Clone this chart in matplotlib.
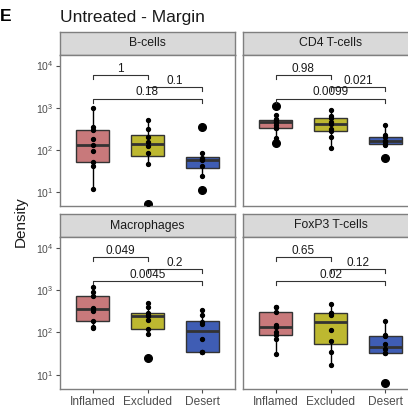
"""Box plots of cell density by immune phenotype (untreated, margin)"""

import numpy as np
import matplotlib

matplotlib.use("Agg")
from matplotlib import pyplot as plt

plt.rcParams["font.family"] = ["Liberation Sans", "DejaVu Sans"]
plt.rcParams["mathtext.fontset"] = "custom"
plt.rcParams["mathtext.rm"] = "Liberation Sans"
plt.rcParams["mathtext.default"] = "regular"

groups = ["Inflamed", "Excluded", "Desert"]
group_colors = ["#C8797B", "#BDB830", "#3F5DB4"]
cell_types = ["B-cells", "CD4 T-cells", "Macrophages", "FoxP3 T-cells"]

# density values, one list per group
bcells_inflamed = [12, 42, 51, 95, 132, 178, 302, 347, 977]
bcells_excluded = [5.1, 47, 83, 126, 151, 200, 316, 513]
bcells_desert = [11.2, 24, 42, 56, 60, 63, 83, 347]

cd4_inflamed = [148, 195, 324, 324, 398, 468, 468, 501, 537, 676, 1122]
cd4_excluded = [110, 200, 275, 316, 417, 457, 562, 631, 891]
cd4_desert = [63, 132, 138, 158, 166, 200, 229, 380]

macro_inflamed = [126, 138, 182, 316, 363, 380, 708, 891, 1202]
macro_excluded = [25, 91, 123, 200, 240, 263, 282, 398, 501]
macro_desert = [34.7, 34.7, 35.5, 72, 158, 174, 251, 331]

foxp3_inflamed = [31, 71, 85, 100, 135, 151, 309, 407, 407]
foxp3_excluded = [17.4, 35.5, 63, 115, 263, 282, 295, 468]
foxp3_desert = [6.3, 33, 33, 40, 52.5, 83, 85, 182]

# p-values: Inflamed-Excluded, Excluded-Desert, Inflamed-Desert
pvals_bcells = ["1", "0.1", "0.18"]
pvals_cd4 = ["0.98", "0.021", "0.0099"]
pvals_macro = ["0.049", "0.2", "0.0045"]
pvals_foxp3 = ["0.65", "0.12", "0.02"]

panel_data = [
    [bcells_inflamed, bcells_excluded, bcells_desert],
    [cd4_inflamed, cd4_excluded, cd4_desert],
    [macro_inflamed, macro_excluded, macro_desert],
    [foxp3_inflamed, foxp3_excluded, foxp3_desert],
]
panel_pvals = [pvals_bcells, pvals_cd4, pvals_macro, pvals_foxp3]
comparisons = [(1, 2), (2, 3), (1, 3)]
bracket_levels = [3.77, 3.49, 3.21]

W, H = 408, 412
YLIM = (0.667, 4.25)
BORDER = "#7F7F7F"
DARK = "#333333"


def px_axes(fig, x0, y0, x1, y1):
    """Add axes from pixel box (top-left origin)"""
    return fig.add_axes([x0 / W, 1 - y1 / H, (x1 - x0) / W, (y1 - y0) / H])


def draw_panel(ax, data, pvals, show_x, show_y):
    logs = [np.log10(d) for d in data]
    pos = [1, 2, 3]
    bp = ax.boxplot(
        logs,
        positions=pos,
        widths=0.6,
        patch_artist=True,
        showcaps=False,
        whis=1.5,
        medianprops=dict(color=DARK, lw=2),
        boxprops=dict(edgecolor=DARK, lw=1),
        whiskerprops=dict(color="black", lw=1),
        flierprops=dict(marker="o", markersize=5.5, markerfacecolor="black",
                        markeredgecolor="black"),
        zorder=2,
    )
    for patch, col in zip(bp["boxes"], group_colors):
        patch.set_facecolor(col)
    for p, vals in zip(pos, logs):
        ax.plot([p] * len(vals), vals, "o", color="black", markersize=2.8,
                zorder=4)

    tick = 0.09
    for (a, b), level, label in zip(comparisons, bracket_levels, pvals):
        ax.plot([a, a, b, b], [level - tick, level, level, level - tick],
                color=DARK, lw=0.8, zorder=3)
        ax.text((a + b) / 2, level + 0.01, label, ha="center", va="bottom",
                fontsize=8.5, color="#1A1A1A")

    ax.set_xlim(0.4, 3.6)
    ax.set_ylim(*YLIM)
    ax.set_yticks([1, 2, 3, 4])
    ax.set_xticks(pos)
    ax.tick_params(axis="both", colors="#4D4D4D", length=3, width=0.8,
                   labelsize=7.5, pad=2)
    if show_y:
        ax.set_yticklabels([f"$10^{{{k}}}$" for k in [1, 2, 3, 4]])
    else:
        ax.tick_params(axis="y", left=False, labelleft=False)
    if show_x:
        ax.set_xticklabels(groups, fontsize=8.6)
    else:
        ax.tick_params(axis="x", bottom=False, labelbottom=False)
    for s in ax.spines.values():
        s.set_color(BORDER)
        s.set_linewidth(1)


def draw_strip(ax, label):
    ax.set_facecolor("#D9D9D9")
    ax.set_xticks([])
    ax.set_yticks([])
    for s in ax.spines.values():
        s.set_color(BORDER)
        s.set_linewidth(1)
    ax.text(0.5, 0.5, label, ha="center", va="center", fontsize=8.8,
            color="#1A1A1A", transform=ax.transAxes)


def main():
    fig = plt.figure(figsize=(W / 100, H / 100), dpi=100)
    cols = [(60, 235), (243, 418)]
    rows = [(32, 55, 206), (214, 237, 389)]
    for i, (label, data, pvals) in enumerate(zip(cell_types, panel_data, panel_pvals)):
        r, c = divmod(i, 2)
        x0, x1 = cols[c]
        s0, s1, p1 = rows[r]
        strip = px_axes(fig, x0, s0, x1, s1)
        draw_strip(strip, label)
        ax = px_axes(fig, x0, s1, x1, p1)
        draw_panel(ax, data, pvals, show_x=(r == 1), show_y=(c == 0))

    fig.text(0 / W, 1 - 21 / H, "E", fontsize=12.5, fontweight="bold",
             ha="left", va="baseline")
    fig.text(60 / W, 1 - 22 / H, "Untreated - Margin", fontsize=12.5,
             ha="left", va="baseline", color="#1A1A1A")
    fig.text(21 / W, 1 - 222 / H, "Density", fontsize=11, rotation=90,
             ha="center", va="center", color="#1A1A1A")
    fig.savefig("out.png", dpi=100)


if __name__ == "__main__":
    main()
